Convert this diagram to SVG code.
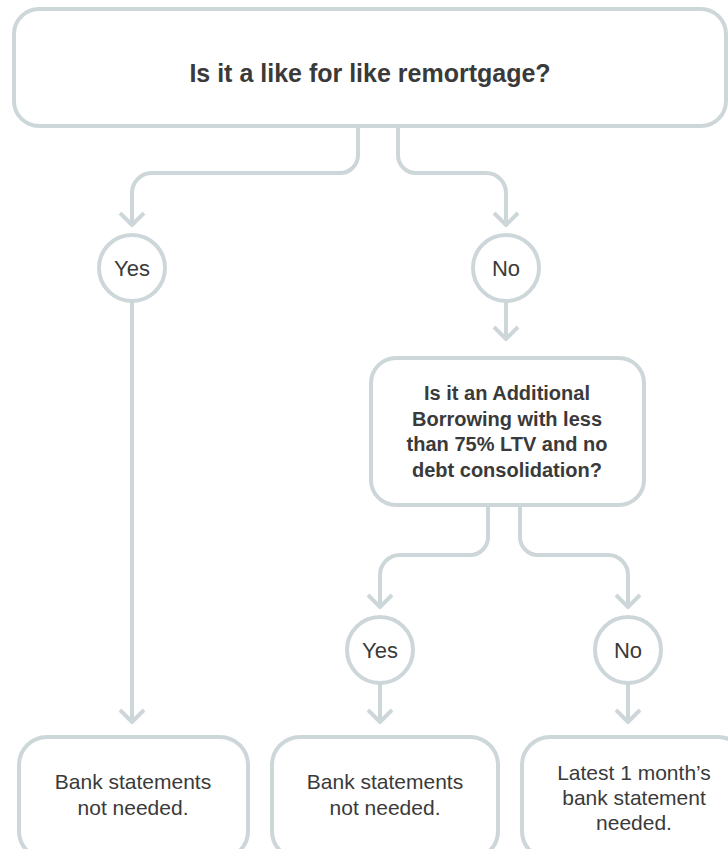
<svg xmlns="http://www.w3.org/2000/svg" width="728" height="849" viewBox="0 0 728 849">
<style>
.box{fill:#fff;stroke:#cdd7da;stroke-width:4}
.c{fill:none;stroke:#cdd7da;stroke-width:4;stroke-linejoin:round}
.t{font-family:"Liberation Sans",Arial,sans-serif;fill:#3a3a3a;text-anchor:middle}
.b{font-weight:bold}
</style>
<rect width="728" height="849" fill="#fff"/>
<g id="connectors" class="c">
<path d="M358,126 V155 A18,18 0 0 1 340,173 H152 A20,20 0 0 0 132,193 V225"/>
<path d="M120,213 L132,225 L144,213"/>
<path d="M398,126 V155 A18,18 0 0 0 416,173 H486 A20,20 0 0 1 506,193 V225"/>
<path d="M494,213 L506,225 L518,213"/>
<path d="M132,301 V722"/>
<path d="M120,710 L132,722 L144,710"/>
<path d="M506,301 V339"/>
<path d="M494,327 L506,339 L518,327"/>
<path d="M488,505 V537 A18,18 0 0 1 470,555 H400 A20,20 0 0 0 380,575 V607"/>
<path d="M368,595 L380,607 L392,595"/>
<path d="M520,505 V537 A18,18 0 0 0 538,555 H608 A20,20 0 0 1 628,575 V607"/>
<path d="M616,595 L628,607 L640,595"/>
<path d="M380,683 V722"/>
<path d="M368,710 L380,722 L392,710"/>
<path d="M628,683 V722"/>
<path d="M616,710 L628,722 L640,710"/>
</g>
<g id="q1">
<rect class="box" x="14" y="9" width="712" height="117" rx="25"/>
<text class="t b" x="370" y="82" font-size="25">Is it a like for like remortgage?</text>
</g>
<g id="yes1">
<circle class="box" cx="132" cy="268" r="33"/>
<text class="t" x="132" y="276" font-size="22">Yes</text>
</g>
<g id="no1">
<circle class="box" cx="506" cy="268" r="33"/>
<text class="t" x="506" y="276" font-size="22">No</text>
</g>
<g id="q2">
<rect class="box" x="371" y="358" width="273" height="147" rx="25"/>
<text class="t b" font-size="20"><tspan x="507" y="400">Is it an Additional</tspan><tspan x="507" y="426">Borrowing with less</tspan><tspan x="507" y="451">than 75% LTV and no</tspan><tspan x="507" y="477">debt consolidation?</tspan></text>
</g>
<g id="yes2">
<circle class="box" cx="380" cy="650" r="33"/>
<text class="t" x="380" y="658" font-size="22">Yes</text>
</g>
<g id="no2">
<circle class="box" cx="628" cy="650" r="33"/>
<text class="t" x="628" y="658" font-size="22">No</text>
</g>
<g id="r1">
<rect class="box" x="19" y="737" width="229" height="122" rx="28"/>
<text class="t" font-size="21"><tspan x="133" y="789">Bank statements</tspan><tspan x="133" y="815">not needed.</tspan></text>
</g>
<g id="r2">
<rect class="box" x="272" y="737" width="226" height="122" rx="28"/>
<text class="t" font-size="21"><tspan x="385" y="789">Bank statements</tspan><tspan x="385" y="815">not needed.</tspan></text>
</g>
<g id="r3">
<rect class="box" x="522" y="737" width="224" height="122" rx="28"/>
<text class="t" font-size="21"><tspan x="634" y="780">Latest 1 month’s</tspan><tspan x="634" y="805">bank statement</tspan><tspan x="634" y="830">needed.</tspan></text>
</g>
</svg>
